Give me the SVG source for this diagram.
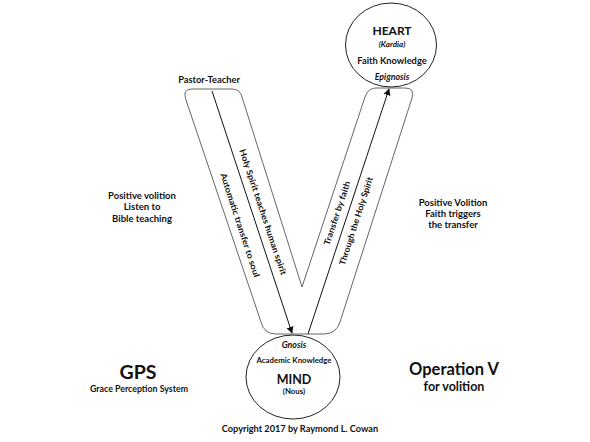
<svg xmlns="http://www.w3.org/2000/svg" width="590" height="442" viewBox="0 0 590 442">
<style>
text{font-family:Lato,"Liberation Sans",sans-serif;font-weight:bold;fill:#111;text-anchor:middle}
.it{font-style:italic}
.node{fill:#fff;stroke:#222;stroke-width:1}
.vshape{fill:#fff;stroke:#555;stroke-width:0.9}
.conn{stroke:#111;stroke-width:1;fill:none;marker-end:url(#ah)}
</style>
<defs>
<marker id="ah" viewBox="0 0 10 10" refX="9" refY="5" markerWidth="7" markerHeight="7" markerUnits="userSpaceOnUse" orient="auto">
<path d="M0,0 L10,5 L0,10 z" fill="#111"/>
</marker>
</defs>
<rect width="590" height="442" fill="#fff"/>
<g id="v-channel">
<path class="vshape" d="M186,100 Q182,89 192,89 L232,89 Q240,89 242,97 L302,287 L365,97 Q368,88 376,88 L405,88 Q415,88 412,98 L340,322 Q336,334 324,334 L276,334 Q264,334 261,322 Z"/>
</g>
<g id="heart">
<ellipse class="node" cx="391" cy="45" rx="45.5" ry="42"/>
<text x="392" y="35" font-size="12">HEART</text>
<text x="392" y="47" font-size="8" class="it">(Kardia)</text>
<text x="392" y="64" font-size="9.3">Faith Knowledge</text>
<text x="392" y="80" font-size="8.8" class="it">Epignosis</text>
</g>
<g id="mind">
<ellipse class="node" cx="293" cy="377" rx="47" ry="42"/>
<text x="294" y="348" font-size="8.8" class="it">Gnosis</text>
<text x="294" y="363" font-size="7.8">Academic Knowledge</text>
<text x="294" y="384" font-size="12.5">MIND</text>
<text x="294" y="394" font-size="7.8">(Nous)</text>
</g>
<g id="connectors">
<line class="conn" x1="212" y1="91" x2="292" y2="333"/>
<line class="conn" x1="308" y1="334" x2="389" y2="89"/>
</g>
<g id="arm-labels">
<text font-size="8.5" transform="translate(263,212) rotate(71.5)" textLength="132" lengthAdjust="spacingAndGlyphs" dy="3">Holy Spirit teaches human spirit</text>
<text font-size="8.5" transform="translate(240,225) rotate(71.8)" textLength="109" lengthAdjust="spacingAndGlyphs" dy="3">Automatic transfer to soul</text>
<text font-size="8.5" transform="translate(337,213) rotate(-71.5)" textLength="67" lengthAdjust="spacingAndGlyphs" dy="3">Transfer by faith</text>
<text font-size="8.5" transform="translate(356,221) rotate(-72)" textLength="92" lengthAdjust="spacingAndGlyphs" dy="3">Through the Holy Spirit</text>
</g>
<g id="pastor-teacher">
<text x="209" y="83" font-size="9.3">Pastor-Teacher</text>
</g>
<g id="left-note">
<text x="142" y="199" font-size="9.5">Positive volition</text>
<text x="142" y="210" font-size="9.5">Listen to</text>
<text x="142" y="222" font-size="9.5">Bible teaching</text>
</g>
<g id="right-note">
<text x="453" y="206" font-size="9.5">Positive Volition</text>
<text x="453" y="217" font-size="9.5">Faith triggers</text>
<text x="453" y="228" font-size="9.5">the transfer</text>
</g>
<g id="gps">
<text x="138" y="379" font-size="19.5">GPS</text>
<text x="139" y="392" font-size="8.8">Grace Perception System</text>
</g>
<g id="operation-v">
<text x="454" y="375" font-size="16.5">Operation V</text>
<text x="454" y="391" font-size="12.5">for volition</text>
</g>
<g id="copyright">
<text x="300" y="432" font-size="9.2">Copyright 2017 by Raymond L. Cowan</text>
</g>
</svg>
